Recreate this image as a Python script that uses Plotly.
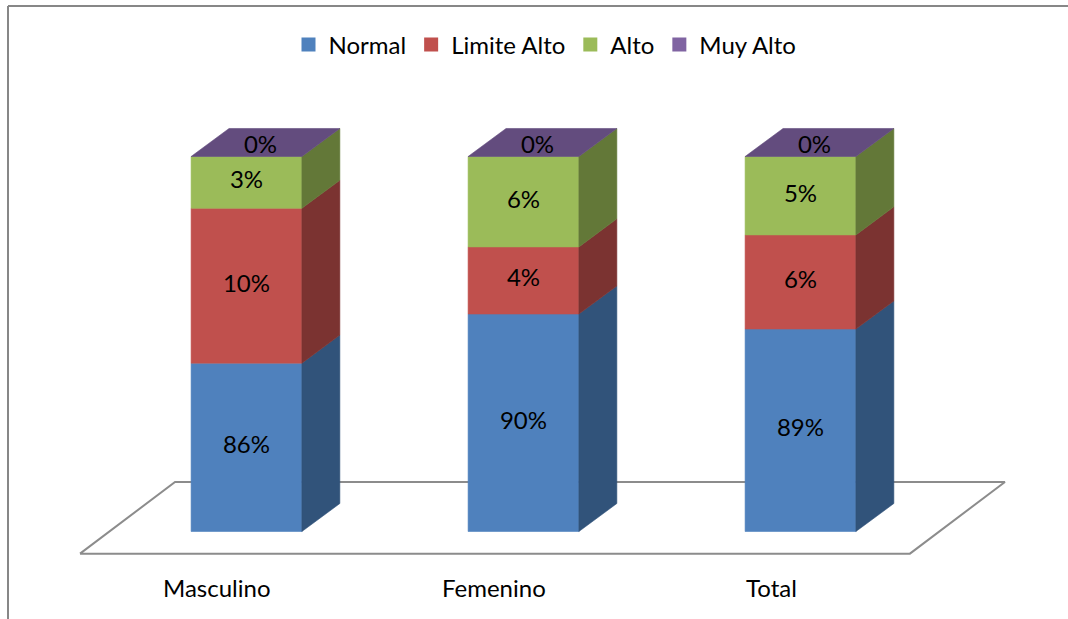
import plotly.graph_objects as go

# ---------------- data ----------------
categories = ["Masculino", "Femenino", "Total"]
series_names = ["Normal", "Limite Alto", "Alto", "Muy Alto"]
# segment heights as drawn (share of the bar)
normal_vals = [44.9, 58.0, 54.0]
limite_vals = [41.3, 17.9, 25.1]
alto_vals = [13.8, 24.1, 20.9]
muy_alto_vals = [0.0, 0.0, 0.0]
# data labels as printed on the chart
normal_labels = ["86%", "90%", "89%"]
limite_labels = ["10%", "4%", "6%"]
alto_labels = ["3%", "6%", "5%"]
muy_alto_labels = ["0%", "0%", "0%"]

# ---------------- style ----------------
front_colors = ["#4F81BD", "#C0504D", "#9BBB59", "#8064A2"]
side_colors = ["#31537A", "#7B3331", "#637838", "#604A7B"]
top_color = "#634C7E"
FONT = "Lato"
FS = 24
BAR_W = 0.40
DX = 0.137      # depth offset (x units)
DY = 7.47       # depth offset (y units)
FLOOR_FRONT_Y = -5.9
FLOOR_BACK_Y = 13.2
FLOOR_LEFT = -0.601
FLOOR_RIGHT = 2.395
FLOOR_DX = 0.343

values = [normal_vals, limite_vals, alto_vals, muy_alto_vals]
labels = [normal_labels, limite_labels, alto_labels, muy_alto_labels]

fig = go.Figure()

# floor (drawn first, bars cover it)
fig.add_trace(go.Scatter(
    x=[FLOOR_LEFT, FLOOR_LEFT + FLOOR_DX, FLOOR_RIGHT + FLOOR_DX, FLOOR_RIGHT, FLOOR_LEFT],
    y=[FLOOR_FRONT_Y, FLOOR_BACK_Y, FLOOR_BACK_Y, FLOOR_FRONT_Y, FLOOR_FRONT_Y],
    mode="lines", line=dict(color="#8C8C8C", width=2), fill="toself",
    fillcolor="white", hoverinfo="skip", showlegend=False))

n = len(categories)
bases = [0.0] * n
label_x, label_y, label_t = [], [], []
for s, name in enumerate(series_names):
    fx, fy, sx, sy = [], [], [], []
    for i in range(n):
        v = values[s][i]
        y0 = bases[i]
        y1 = y0 + v
        x0 = i - BAR_W / 2
        x1 = i + BAR_W / 2
        if v > 0:
            fx += [x0, x1, x1, x0, x0, None]
            fy += [y0, y0, y1, y1, y0, None]
            sx += [x1, x1 + DX, x1 + DX, x1, x1, None]
            sy += [y0, y0 + DY, y1 + DY, y1, y0, None]
            label_x.append(i)
            label_y.append((y0 + y1) / 2)
        else:
            label_x.append(i + DX * 0.37)
            label_y.append(y1 + DY * 0.33)
        label_t.append(labels[s][i])
        bases[i] = y1
    if fx:
        fig.add_trace(go.Scatter(x=fx, y=fy, mode="lines", fill="toself",
                                 fillcolor=front_colors[s],
                                 line=dict(color=front_colors[s], width=0.6),
                                 hoverinfo="skip", showlegend=False))
        fig.add_trace(go.Scatter(x=sx, y=sy, mode="lines", fill="toself",
                                 fillcolor=side_colors[s],
                                 line=dict(color=side_colors[s], width=0.6),
                                 hoverinfo="skip", showlegend=False))

# top face of the stack (belongs to the last series)
tx, ty = [], []
for i in range(n):
    t = bases[i]
    x0 = i - BAR_W / 2
    x1 = i + BAR_W / 2
    tx += [x0, x1, x1 + DX, x0 + DX, x0, None]
    ty += [t, t, t + DY, t + DY, t, None]
fig.add_trace(go.Scatter(x=tx, y=ty, mode="lines", fill="toself", fillcolor=top_color,
                         line=dict(color=top_color, width=0.6),
                         hoverinfo="skip", showlegend=False))

# data labels
fig.add_trace(go.Scatter(x=label_x, y=label_y, text=label_t, mode="text",
                         textfont=dict(family=FONT, size=FS, color="black"),
                         hoverinfo="skip", showlegend=False))

# legend entries
for s, name in enumerate(series_names):
    fig.add_trace(go.Scatter(x=[None], y=[None], mode="markers", name=name,
                             marker=dict(symbol="square", size=14, color=front_colors[s])))

# category labels
for i, c in enumerate(categories):
    fig.add_annotation(x=i - 0.105, y=-14.8, text=c, showarrow=False,
                       font=dict(family=FONT, size=FS, color="black"),
                       xanchor="center", yanchor="middle")

W, H = 1068, 619
fig.update_layout(
    width=W, height=H,
    margin=dict(l=0, r=0, t=0, b=0),
    paper_bgcolor="white", plot_bgcolor="white",
    xaxis=dict(visible=False, range=[-246.5 / 277, (W - 246.5) / 277], fixedrange=True),
    yaxis=dict(visible=False, range=[(531.5 - H) / 3.75, 531.5 / 3.75], fixedrange=True),
    legend=dict(orientation="h", x=545 / W, xanchor="center", y=1 - 45 / H, yanchor="middle",
                font=dict(family=FONT, size=FS, color="black"), itemwidth=30,
                bgcolor="rgba(0,0,0,0)"),
    shapes=[
        dict(type="line", xref="paper", yref="paper", x0=8 / W, x1=8 / W, y0=0, y1=1 - 6 / H,
             line=dict(color="#878787", width=2)),
        dict(type="line", xref="paper", yref="paper", x0=8 / W, x1=1, y0=1 - 6 / H, y1=1 - 6 / H,
             line=dict(color="#878787", width=2)),
    ],
)

fig.write_html("out.html")
